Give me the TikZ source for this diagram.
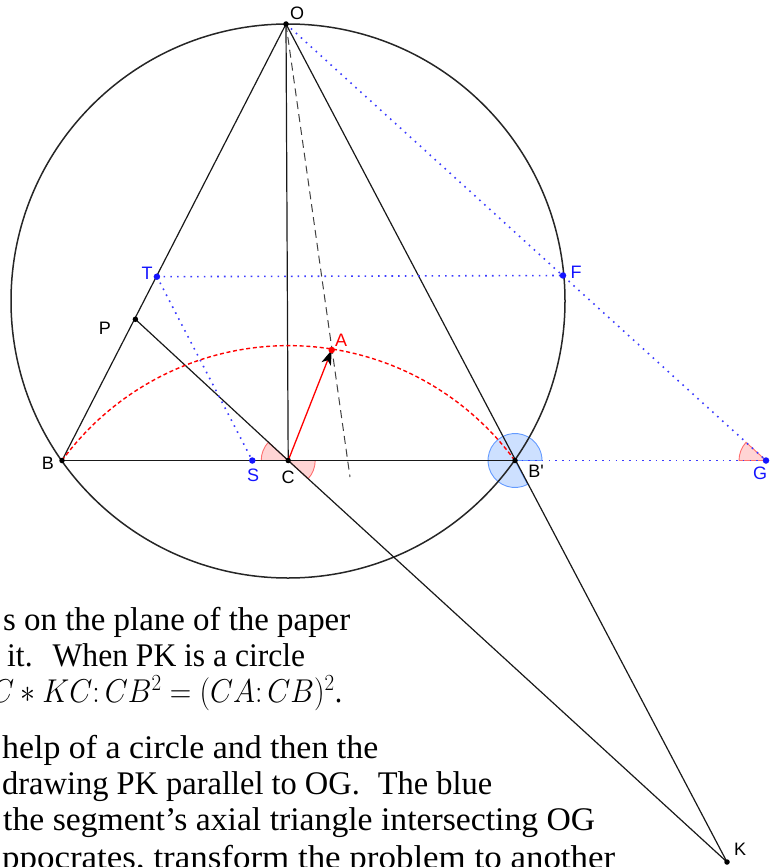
\documentclass[tikz,border=0pt]{standalone}
\usepackage{fix-cm}
\usepackage{fontspec}
\setmainfont{Liberation Serif}
\newfontfamily\labfont{Liberation Sans}
\usetikzlibrary{arrows.meta}
\definecolor{ptblue}{RGB}{20,20,255}
\definecolor{dotblue}{RGB}{60,60,255}
\definecolor{angbluedraw}{RGB}{100,155,255}
\definecolor{angbluefill}{RGB}{205,224,255}
\definecolor{angreddraw}{RGB}{255,110,110}
\definecolor{angredfill}{RGB}{255,212,212}
\begin{document}
\begin{tikzpicture}[x=1pt,y=-1pt,
  geo/.style={line width=1.2pt, black!90},
  circ/.style={line width=1.5pt, black!85},
  bluedots/.style={dotblue, line width=1.6pt, dash pattern=on 1.6pt off 5.1pt},
  reddash/.style={red, line width=1.4pt, dash pattern=on 4pt off 2.7pt},
  blackdash/.style={black!75, line width=1pt, dash pattern=on 8pt off 5pt},
  bpt/.style={circle, fill=black, inner sep=0pt, minimum size=5.5pt},
  blpt/.style={circle, fill=ptblue, inner sep=0pt, minimum size=6.5pt},
  rpt/.style={circle, fill=red, inner sep=0pt, minimum size=6.5pt},
  lab/.style={font=\labfont\fontsize{18}{20}\selectfont, inner sep=0pt},
  redang/.style={fill=angredfill, draw=angreddraw, line width=0.9pt},
  blueang/.style={fill=angbluefill, draw=angbluedraw, line width=0.9pt},
  txt/.style={font=\fontsize{33}{37}\selectfont, inner sep=0pt, anchor=base west}
]
\clip (0,0) rectangle (776,867);

% points
\coordinate (O) at (286,24);
\coordinate (B) at (62,460.5);
\coordinate (Bp) at (515,460.5);
\coordinate (C) at (288.2,460.5);
\coordinate (P) at (135.4,319.3);
\coordinate (T) at (156.9,276.7);
\coordinate (S) at (252.3,460.5);
\coordinate (A) at (331.7,350);
\coordinate (F) at (563,275.5);
\coordinate (G) at (766,460.5);
\coordinate (K) at (727,862);
\coordinate (D) at (350,477);
\coordinate (Z) at (288,301);

% angles
\filldraw[redang] (C) -- ++(180:27) arc[start angle=180, end angle=222.7, radius=27] -- cycle;
\filldraw[redang] (C) -- ++(0:27) arc[start angle=0, end angle=42.45, radius=27] -- cycle;
\filldraw[redang] (G) -- ++(180:27) arc[start angle=180, end angle=222.3, radius=27] -- cycle;
\filldraw[blueang] (Bp) -- ++(62.2:27) arc[start angle=62.2, end angle=360, radius=27] -- cycle;

% circle
\draw[circ] (Z) circle[radius=277];

% solid lines
\draw[geo] (O) -- (B);
\draw[geo] (O) -- (C);
\draw[geo] (O) -- (K);
\draw[geo] (B) -- (Bp);
\draw[geo] (P) -- (C) -- (K);

% blue dotted
\draw[bluedots] (T) -- (F);
\draw[bluedots] (T) -- (S);
\draw[bluedots] (O) -- (G);
\draw[bluedots] (Bp) -- (G);

% red dashed arc
\draw[reddash] (B) arc[start angle=216.2, end angle=323.7, radius=280.6];

% black dashed
\draw[blackdash] (O) -- (D);

% vector
\draw[red, line width=1.3pt, -{Stealth[length=15pt, width=10pt, inset=4pt, color=black]}] (C) -- (A);

% dots
\node[bpt] (Odot) at (O) {};
\node[bpt] (Bdot) at (B) {};
\node[bpt] (Bpdot) at (Bp) {};
\node[bpt] (Cdot) at (C) {};
\node[bpt] (Pdot) at (P) {};
\node[bpt] (Kdot) at (K) {};
\node[blpt] (Tdot) at (T) {};
\node[blpt] (Sdot) at (S) {};
\node[blpt] (Fdot) at (F) {};
\node[blpt] (Gdot) at (G) {};
\node[rpt] (Adot) at (A) {};

% labels
\node[lab] (Olab) at (297,13) {O};
\node[lab, ptblue] (Tlab) at (147,273) {T};
\node[lab] (Plab) at (105,328) {P};
\node[lab] (Blab) at (48,463) {B};
\node[lab, red] (Alab) at (341,340) {A};
\node[lab, ptblue] (Slab) at (253,475) {S};
\node[lab] (Clab) at (288,477) {C};
\node[lab] (Bplab) at (536,471) {B\textquotesingle};
\node[lab, ptblue] (Glab) at (760,473) {G};
\node[lab, ptblue] (Flab) at (576,272) {F};
\node[lab] (Klab) at (740,849) {K};

% text
\node[txt] (L1) at (3,630) {\resizebox{347pt}{\height}{s on the plane of the paper}};
\node[txt] (L2) at (7,666) {\resizebox{298pt}{\height}{it.\hspace{0.3em} When PK is a circle}};
\node[txt] (L3) at (-9,702) {\resizebox{351pt}{\height}{$C\ast KC\colon CB^2=(CA\colon CB)^2$.}};
\node[txt] (L4) at (2,758) {\resizebox{376pt}{\height}{help of a circle and then the}};
\node[txt] (L5) at (2,794) {\resizebox{490pt}{\height}{drawing PK parallel to OG.\hspace{0.3em} The blue}};
\node[txt] (L6) at (3,830) {\resizebox{592pt}{\height}{the segment’s axial triangle intersecting OG}};
\node[txt] (L7) at (2,868) {\resizebox{613pt}{\height}{ppocrates, transform the problem to another}};
\end{tikzpicture}
\end{document}
